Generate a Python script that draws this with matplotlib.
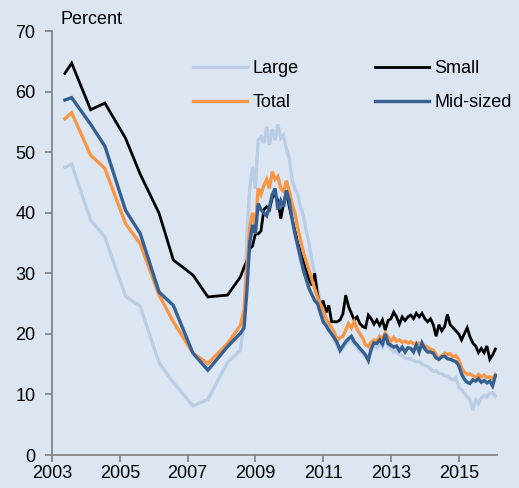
import matplotlib
matplotlib.use("Agg")
import matplotlib.pyplot as plt
import numpy as np
import pandas as pd

plt.rcParams['font.family'] = ['Liberation Sans', 'DejaVu Sans']

# ---- data ----
# early survey dates (fractional years), then monthly from Sep 2008 to Feb 2016
early_dates = [2003.38, 2003.58, 2004.14, 2004.56, 2005.17, 2005.60,
               2006.16, 2006.58, 2007.16, 2007.60, 2008.18, 2008.56]
monthly_index = pd.date_range("2008-09-01", "2016-02-01", freq="MS")
monthly_dates = list(monthly_index.year + (monthly_index.month - 1) / 12.0)

large_early = [47.5, 48.0, 38.8, 36.0, 26.2, 24.6, 15.2, 12.0, 8.1, 9.2, 15.3, 17.3]
small_early = [63.0, 64.7, 57.0, 58.1, 52.3, 46.4, 39.9, 32.2, 29.7, 26.1, 26.4, 29.4]
total_early = [55.5, 56.5, 49.5, 47.3, 38.2, 34.9, 26.4, 22.0, 16.8, 15.1, 18.4, 21.4]
mid_early = [58.6, 59.0, 54.6, 51.0, 40.4, 36.6, 26.9, 24.7, 16.8, 14.0, 17.9, 20.1]

large_monthly = [22, 36, 44, 47.6, 44, 52, 52.5, 51.5, 54.2, 51.2, 53.8, 52, 54.6, 52.3,
                 52.8, 50.5, 49, 45.5, 44, 43, 41, 39.5, 37, 35, 32, 30, 27.5, 25,
                 23.5, 22.0, 20.8, 19.8, 19.0, 18.0, 17.0, 17.6, 18.3, 18.8, 19.0, 18.3,
                 17.8, 17.2, 16.8, 16.3, 16.0, 17.2, 18.0, 17.6, 18.3, 17.8, 19.0, 18.0,
                 17.5, 17.0, 17.2, 16.6, 16.4, 16.0, 15.9, 15.9, 15.6, 15.4, 15.4, 15.0,
                 14.8, 14.6, 14.2, 13.8, 13.9, 13.5, 13.4, 13.1, 13.0, 12.6, 12.4, 12.8,
                 11.2, 10.8, 10.2, 9.6, 9.1, 7.4, 9.1, 8.5, 9.4, 9.8, 9.6, 10.2, 10.3, 9.7]
small_monthly = [31, 32, 34, 34.5, 36.5, 36.5, 37, 40.5, 41, 40.5, 42.5, 43, 42, 39,
                 41.5, 43.5, 41, 39, 37, 35, 33.5, 32, 30.5, 29.0, 28, 30, 26.5, 24.5,
                 25.5, 23.5, 24.7, 22.0, 22.0, 22.0, 22.3, 23.3, 26.4, 24.5, 23.4, 22.3,
                 22.8, 21.7, 21.2, 21.0, 23.1, 22.5, 21.6, 22.3, 21.4, 22.3, 20.6, 22.2,
                 22.5, 23.6, 22.8, 21.6, 22.8, 22.2, 22.8, 23.1, 22.5, 23.4, 22.8, 23.4,
                 22.5, 22.0, 22.5, 21.5, 19.6, 21.5, 20.5, 21.2, 23.2, 21.5, 21.0, 20.5,
                 20.0, 19.0, 20.0, 21.0, 19.5, 18.5, 18.0, 16.9, 17.6, 16.9, 18.0, 15.8,
                 16.5, 17.5]
total_monthly = [24, 31, 37.5, 40, 37.5, 44, 43, 44.5, 45.5, 44, 46.8, 45.5, 46, 44,
                 43.5, 45.3, 43.5, 41.5, 40, 37.5, 35.5, 33.5, 32, 30.5, 29, 27.5, 26, 25,
                 24.0, 22.5, 21.8, 21.0, 20.2, 19.0, 19.3, 19.6, 20.6, 21.7, 21.0, 22.0,
                 20.8, 20.0, 19.3, 18.2, 17.9, 18.6, 19.0, 18.8, 19.6, 19.2, 20.1, 19.5,
                 18.7, 19.4, 18.8, 19.0, 18.6, 18.8, 18.5, 18.7, 18.4, 18.2, 18.5, 18.2,
                 18.0, 17.8, 17.4, 17.3, 16.6, 15.8, 16.4, 16.8, 16.6, 16.7, 16.2, 16.4,
                 15.8, 14.4, 13.7, 13.3, 13.4, 13.1, 12.8, 13.3, 12.9, 13.2, 12.8, 12.9,
                 12.6, 13.3]
mid_monthly = [21, 27, 35, 38, 36.5, 41.5, 40.5, 40, 39.5, 41, 43, 44, 40.5, 42,
               41, 43.7, 42, 39, 36.5, 34.5, 32.5, 30.5, 29, 27.5, 26.5, 25.5, 25, 23.5,
               22.0, 21.4, 20.6, 20.0, 19.3, 18.5, 17.3, 18.0, 18.7, 19.2, 19.6, 18.7,
               18.2, 17.6, 17.1, 16.5, 15.6, 17.5, 18.5, 18.4, 19.0, 18.3, 20.0, 18.4,
               18.1, 17.8, 18.0, 17.2, 17.8, 17.0, 17.7, 17.6, 17.0, 18.2, 17.0, 18.5,
               17.5, 17.0, 17.0, 16.8, 16.0, 15.8, 16.2, 16.3, 15.9, 15.8, 15.6, 15.4,
               14.8, 13.4, 12.5, 12.0, 11.8, 12.4, 12.2, 12.6, 12.0, 12.3, 11.9, 12.2,
               11.4, 13.1]

series_names = ["Large", "Small", "Total", "Mid-sized"]
series_colors = ["#B9CDE5", "#000000", "#F79646", "#376092"]
x_ticks = [2003, 2005, 2007, 2009, 2011, 2013, 2015]
y_ticks = [0, 10, 20, 30, 40, 50, 60, 70]

dates = early_dates + monthly_dates
data = {
    "Large": large_early + large_monthly,
    "Small": small_early + small_monthly,
    "Total": total_early + total_monthly,
    "Mid-sized": mid_early + mid_monthly,
}

bg = "#DCE6F2"
fig = plt.figure(figsize=(5.19, 4.88), dpi=100, facecolor=bg)
ax = fig.add_axes([52 / 519, 1 - 455 / 488, (497 - 52) / 519, (455 - 31) / 488])
ax.set_facecolor(bg)

handles = {}
for name, color in zip(series_names, series_colors):
    lw = 2.4 if name != "Small" else 2.0
    (h,) = ax.plot(dates, data[name], color=color, lw=lw, solid_joinstyle="miter",
                   label=name)
    handles[name] = h

ax.set_xlim(2003, 2016.13)
ax.set_ylim(0, 70)
ax.set_xticks(x_ticks)
ax.set_xticklabels([str(t) for t in x_ticks])
ax.set_yticks(y_ticks)

for s in ["top", "right"]:
    ax.spines[s].set_visible(False)
for s in ["left", "bottom"]:
    ax.spines[s].set_color("#868686")
    ax.spines[s].set_linewidth(1.3)
ax.tick_params(axis="both", direction="out", length=5, width=1.3, color="#868686",
               labelsize=13, labelcolor="#000000")
ax.tick_params(axis="y", pad=7)
ax.tick_params(axis="x", pad=2)

fig.text(60 / 519, 1 - 24 / 488, "Percent", fontsize=13, ha="left", va="baseline")

order = ["Large", "Total", "Small", "Mid-sized"]
leg = ax.legend([handles[n] for n in order], order, ncol=2, frameon=False,
                fontsize=13, handlelength=3.0, handletextpad=0.3, columnspacing=4.2,
                labelspacing=0.95, loc="upper left",
                bbox_to_anchor=(193 / 519, 1 - 60 / 488), bbox_transform=fig.transFigure,
                borderaxespad=0, borderpad=0)

fig.savefig("out.png", dpi=100, facecolor=bg)
